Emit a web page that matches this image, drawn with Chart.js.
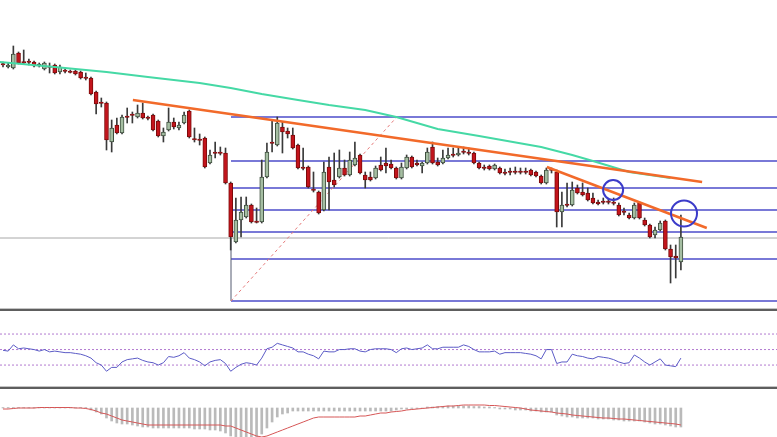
<!DOCTYPE html>
<html>
<head>
<meta charset="utf-8">
<script src="https://cdn.jsdelivr.net/npm/chart.js@4.4.0/dist/chart.umd.min.js"></script>
<style>
body { margin: 0; background: #fff; width: 777px; height: 437px; overflow: hidden; position: relative; }
.pane { position: absolute; left: 0; width: 777px; }
.sep { position: absolute; left: 0; width: 777px; height: 2px; background: #5e5e5e; border-top: 1px solid #c4c4c4; }
</style>
</head>
<body>
<div class="pane" style="top:0;height:308px"><canvas id="main"></canvas></div>
<div class="sep" style="top:308px"></div>
<div class="pane" style="top:311px;height:75px"><canvas id="rsi"></canvas></div>
<div class="sep" style="top:386px"></div>
<div class="pane" style="top:389px;height:48px"><canvas id="macd"></canvas></div>
<script>
// candles, one per period
var opens = [256,253,252,267,258,258,258,254,251,253,
  255,248,249,248,249,248,242,242,228,217,
  217,178,195,187,203,205,203,207,202,205,
  199,184,190,198,192,197,209,181,180,182,
  157,167,167,167,137,78,100,103,115,98,
  98,143,177,175,193,189,185,175,152,153,
  130,128,110,153,140,143,152,145,155,165,
  145,143,142,155,157,156,152,142,152,163,
  157,154,157,173,158,157,162,165,165,168,
  167,167,157,152,154,151,152,147,148,148,
  148,148,150,148,144,137,150,148,108,115,
  115,132,128,127,122,118,118,118,117,115,
  108,105,102,117,100,95,85,90,99,71,
  64,58];
var closes = [255,255,266,257,257,257.5,254,256,257,252.5,
  247,253,248.5,247.5,246,242,241.5,226,216,216.5,
  180,192,187,203,202.5,204.5,207,202,201.5,190,
  184,188,198,193,195,205,183,180,179.5,153,
  165,166.5,166.5,137,83,100,108,115,98,97.5,
  143,168,176.5,197,188,186,172,152,151.5,133,
  129.5,107,148,138,135,152,145,160,162,147,
  140,140,152,150,154,152,142,153,163,153,
  155,157,168,157,155,162,165,164.5,167,167.5,
  166.5,157,152,151.5,151,155,147,146.5,147.5,147.5,
  147.5,147.5,145,144,137,150,149.5,108,115,114.5,
  130,127,125,120,117,116,117.5,117.5,116.5,105,
  107.5,102,115,102,95,83,90,97,71,63,
  62,83];
var highs = [258,257,274,268,270,261,259,257,258,257,
  256,255,251,250,250,249,247,243,229,222,
  218,200,202,205,212,208,215,217,204,206,
  200,192,212,202,198,208,210,192,186,183,
  170,178,173,172,138,122,123,123,116,112,
  160,177,200,203,198,192,192,176,172,154,
  148,129,158,163,167,170,160,168,178,166,
  148,148,154,163,172,160,153,157,165,164,
  160,158,172,178,162,170,172,172,172,173,
  172,168,158,155,155,156,153,151,152,153,
  152,152,151,149,145,152,152,150,128,137,
  138,135,137,132,127,120,122,121,122,117,
  112,107,117,118,102,96,93,99,100,75,
  75,105];
var lows = [253,252,251,256,256,255,253,253,250,247,
  246,246,247,247,245,241,240,225,206,213,
  170,168,186,186,197,197,202,201,200,189,
  183,178,189,191,190,196,182,178,175,152,
  156,162,165,136,70,77,83,102,97,97,
  97,142,168,174,167,182,171,151,150,132,
  128,106,109,110,133,142,144,144,154,146,
  132,139,141,149,147,151,141,141,151,152,
  154,147,156,156,154,156,161,163,164,166,
  165,156,151,150,150,150,146,145,145,146,
  146,146,144,143,136,136,147,93,93,113,
  114,126,124,119,116,115,116,116,115,104,
  105,101,101,101,94,82,82,89,70,37,
  42,50];

// moving average (period index, price)
var maIdx = [-0.6, 10, 20, 28, 38, 44, 50, 57, 63, 70, 76, 84, 92, 104, 110, 114, 121, 129];
var maVal = [258, 253, 248, 243, 237, 232, 226, 220, 215, 210, 203, 191, 184, 173, 165, 159, 148, 142];

// trend lines
var trend1Idx = [25.1, 135.1];
var trend1Val = [220, 138];
var trend2Idx = [105.1, 136.0];
var trend2Val = [153, 92];

// fibonacci retracement
var fibStart = 44.06;
var fibEnd = 76.1;
var fibLevels = [19, 61, 88, 110, 132, 159, 203];
var supportLevel = 82;

// marked spots
var circleIdx = [117.9, 131.6];
var circleVal = [130, 106.5];

// RSI
var rsi = [49,48,56,51,52,51,50,48,50,47,
  48,47,46,46,45,44,42,39,33,30,
  22,27,27,34,37,38,39,36,34,33,
  30,33,41,40,42,46,39,37,34,29,
  34,36,37,32,22,27,31,33,32,30,
  39,51,53,58,56,54,52,47,47,44,
  42,38,48,47,47,50,50,51,51,48,
  47,50,51,51,51,50,46,51,52,50,
  51,52,56,51,51,53,53,53,53,56,
  54,50,47,47,47,48,44,46,46,46,
  46,45,44,42,38,50,50,32,34,34,
  44,42,41,39,38,41,40,39,37,34,
  32,33,43,39,34,30,34,38,30,29,
  28,39];
var rsiLevels = [70, 50, 30];

// MACD
var macdHist = [0.5,0.5,0.5,0.5,0.5,0.5,0.5,0.5,0.5,0.5,
  0.5,0.5,0.5,0.5,0.5,0.5,0.5,-2,-4,-6,
  -10,-13,-15,-16,-16,-17,-18,-19,-19,-20,
  -20,-20,-20,-20,-20,-20,-20,-21,-21,-21,
  -22,-22,-23,-25,-28,-30,-30,-30,-30,-29,
  -26,-20,-14,-9,-6,-5,-3,-3,-3,-3,
  -3,-3,-3,-3,-3,-3,-3,-3,-3,-3,
  -3,-3,-3,-3,-3,-3,-2,-1,-1,-0.5,
  -0.5,0,1,1,1.5,1.5,2,2,2,2,
  2,1.5,1.5,1,1,0.5,-1,-1,-1,-2,
  -2,-2,-3,-3,-4,-4,-4,-7,-8,-9,
  -9,-10,-10,-10,-10,-11,-11,-11,-12,-12,
  -13,-13,-13,-13,-14,-15,-16,-16,-17,-18,
  -19,-19];
var macdSignal = [-1,-1,-0.5,0,0,0,0,0.5,0.5,0.5,
  0.5,0.5,0.5,0.5,0,0,-0.5,-1.5,-3,-5,
  -6,-8,-10,-12,-13,-14,-15,-16,-17,-17,
  -17,-17,-17,-17,-17,-17,-17,-17,-17,-17,
  -17,-17,-17,-18,-18,-20,-22,-24,-26,-28,
  -29,-28,-26,-24,-22,-20,-18,-16,-14,-12,
  -10,-9,-9,-9,-9,-9,-9,-9,-9,-8,
  -8,-7,-6,-5,-5,-4,-3.5,-3,-2,-1.5,
  -1,-0.5,0,0.5,1,1.5,2,2,2.5,3,
  3,3,3,3,2.5,2.5,2,1.5,1,0.5,
  0,-1,-2,-2.5,-3,-3.5,-4,-5,-5.5,-6,
  -7,-7.5,-8,-8.5,-9,-9.5,-10,-10,-10.5,-11,
  -11,-11.5,-12,-12.5,-13,-13.5,-14,-14.5,-15,-15.5,
  -16,-17];

var X_MIN = -0.58, X_MAX = 149.57;

function xy(xs, ys) {
  return xs.map(function (x, k) { return { x: x, y: ys[k] }; });
}

function baseOptions(yMin, yMax) {
  return {
    responsive: true,
    maintainAspectRatio: false,
    animation: false,
    events: [],
    layout: { padding: 0, autoPadding: false },
    plugins: { legend: { display: false }, tooltip: { enabled: false } },
    scales: {
      x: { type: 'linear', min: X_MIN, max: X_MAX, offset: false, display: false },
      y: { min: yMin, max: yMax, display: false }
    }
  };
}

function flatLine(v, x0, color, width, dash, order) {
  return {
    type: 'line', data: [{ x: x0, y: v }, { x: X_MAX, y: v }],
    borderColor: color, borderWidth: width, borderDash: dash || [],
    pointRadius: 0, order: order
  };
}

var idx = opens.map(function (v, i) { return i; });
var upFill = '#a5bea2', upLine = '#3f4f3f', downFill = '#c3141c', downLine = '#7c0b0b';

var mainSets = [
  {
    type: 'line', data: xy(circleIdx, circleVal), showLine: false,
    pointRadius: [10, 13], pointBorderColor: '#3b3bc9', pointBorderWidth: 2,
    pointBackgroundColor: 'rgba(0,0,0,0)', order: 0
  },
  { type: 'line', data: xy(trend1Idx, trend1Val), borderColor: '#f26a2a', borderWidth: 2.5, pointRadius: 0, order: 1 },
  { type: 'line', data: xy(trend2Idx, trend2Val), borderColor: '#f26a2a', borderWidth: 2.5, pointRadius: 0, order: 1 },
  { type: 'line', data: xy(maIdx, maVal), borderColor: '#45d9a5', borderWidth: 2, pointRadius: 0, order: 2 },
  {
    type: 'bar',
    data: idx.map(function (i) { return { x: i, y: [opens[i], closes[i]] }; }),
    backgroundColor: idx.map(function (i) { return closes[i] >= opens[i] ? upFill : downFill; }),
    borderColor: idx.map(function (i) { return closes[i] >= opens[i] ? upLine : downLine; }),
    borderWidth: 1, borderSkipped: false, barThickness: 4, minBarLength: 1.5,
    grouped: false, order: 3
  },
  {
    type: 'bar',
    data: idx.map(function (i) { return { x: i, y: [lows[i], highs[i]] }; }),
    backgroundColor: '#3a3a3a', barThickness: 1, grouped: false, order: 4
  },
  {
    type: 'line', data: [{ x: fibStart, y: fibLevels[0] }, { x: fibEnd, y: fibLevels[fibLevels.length - 1] }],
    borderColor: '#e57a7a', borderWidth: 1, borderDash: [3, 3], pointRadius: 0, order: 5
  },
  {
    type: 'line', data: [{ x: fibStart, y: fibLevels[0] }, { x: fibStart, y: supportLevel }],
    borderColor: '#555a70', borderWidth: 1, pointRadius: 0, order: 5
  },
  flatLine(supportLevel, X_MIN, '#a8a8a8', 1, [], 6)
];
fibLevels.forEach(function (v) {
  mainSets.push(flatLine(v, fibStart, 'rgba(98,98,208,0.85)', 1.8, [], 6));
});

new Chart(document.getElementById('main'), {
  type: 'bar',
  data: { datasets: mainSets },
  options: baseOptions(12, 320)
});

var rsiSets = [
  { type: 'line', data: xy(idx, rsi), borderColor: '#5b5bc6', borderWidth: 1, pointRadius: 0, order: 0 }
];
rsiLevels.forEach(function (v) {
  rsiSets.push(flatLine(v, X_MIN, '#b27ad0', 1, [2, 2], 1));
});
new Chart(document.getElementById('rsi'), {
  type: 'line',
  data: { datasets: rsiSets },
  options: baseOptions(3, 99.7)
});

new Chart(document.getElementById('macd'), {
  type: 'bar',
  data: {
    datasets: [
      { type: 'line', data: xy(idx, macdSignal), borderColor: '#d65656', borderWidth: 1, pointRadius: 0, order: 0 },
      {
        type: 'bar', data: xy(idx, macdHist), backgroundColor: '#bababa',
        barThickness: 2, grouped: false, order: 1
      }
    ]
  },
  options: baseOptions(-29, 19)
});
</script>
</body>
</html>
